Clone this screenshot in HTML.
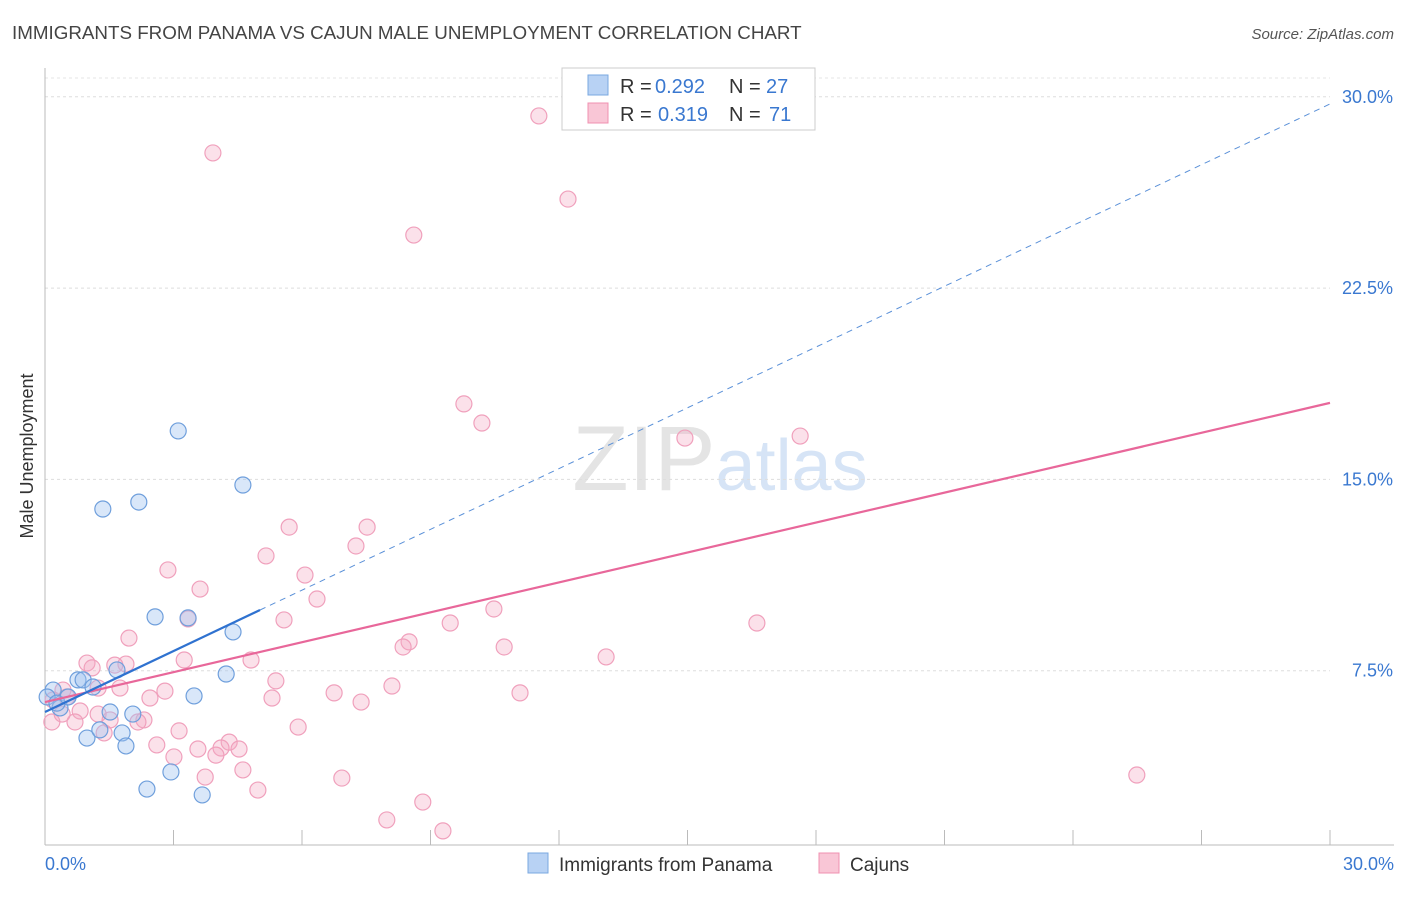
<!DOCTYPE html>
<html><head><meta charset="utf-8"><style>
body{margin:0;background:#fff;font-family:"Liberation Sans",sans-serif;}
svg text{font-family:"Liberation Sans",sans-serif;}
</style></head><body>
<svg id="chart" width="1406" height="892" xmlns="http://www.w3.org/2000/svg">
<text x="12" y="39" font-size="18.8" fill="#444">IMMIGRANTS FROM PANAMA VS CAJUN MALE UNEMPLOYMENT CORRELATION CHART</text>
<text x="1394" y="39" font-size="15" fill="#555" text-anchor="end" font-style="italic">Source: ZipAtlas.com</text>
<text transform="translate(33,456) rotate(-90)" font-size="18" fill="#333" text-anchor="middle">Male Unemployment</text>
<text x="720" y="490" font-size="92" text-anchor="middle" fill="#e4e4e4" font-family="Liberation Serif">ZIP<tspan fill="#d6e4f6" font-family="Liberation Sans" font-size="72">atlas</tspan></text>
<g id="grid"></g><g id="axes"></g><g id="marks"></g>
<g>
<rect x="562" y="68" width="253" height="62" fill="#fff" stroke="#ccc"/>
<rect x="588" y="75" width="20" height="20" fill="#b8d2f4" stroke="#7aa8e0"/>
<text y="93" font-size="20" fill="#333"><tspan x="620">R =</tspan><tspan x="655" fill="#3a78d0">0.292</tspan><tspan x="729">N =</tspan><tspan x="766" fill="#3a78d0">27</tspan></text>
<rect x="588" y="103" width="20" height="20" fill="#f9c6d6" stroke="#f090b0"/>
<text y="121" font-size="20" fill="#333"><tspan x="620">R =</tspan><tspan x="658" fill="#3a78d0">0.319</tspan><tspan x="729">N =</tspan><tspan x="769" fill="#3a78d0">71</tspan></text>
</g>
<g>
<rect x="528" y="853" width="20" height="20" fill="#b8d2f4" stroke="#7aa8e0"/>
<text x="559" y="871" font-size="19" fill="#333">Immigrants from Panama</text>
<rect x="819" y="853" width="20" height="20" fill="#f9c6d6" stroke="#f090b0"/>
<text x="850" y="871" font-size="19" fill="#333">Cajuns</text>
</g>
</svg>
<script>
const yTicks=[7.5,15,22.5,30];
const yTickLabels=["7.5%","15.0%","22.5%","30.0%"];
const xTicksEvery=[0,3,6,9,12,15,18,21,24,27,30];
const panamaX=[0.19,0.05,0.35,0.28,0.54,0.77,0.89,1.12,0.98,1.35,1.52,1.28,1.80,1.89,2.05,2.19,2.38,2.57,2.94,3.11,3.34,3.48,3.67,4.23,4.39,4.62,1.68];
const panamaY=[6.74,6.47,6.04,6.23,6.47,7.14,7.14,6.86,4.86,13.84,5.88,5.18,5.06,4.55,5.80,14.11,2.86,9.61,3.53,16.90,9.57,6.51,2.63,7.37,9.02,14.78,7.53];
const cajunX=[3.92,11.53,12.21,8.61,9.78,10.20,14.94,17.63,5.70,7.52,7.26,5.16,2.87,6.07,3.62,6.35,5.58,1.96,3.34,16.62,9.46,10.48,8.50,8.36,10.72,13.10,3.25,4.81,1.89,0.98,1.63,1.10,5.39,8.10,1.75,1.24,2.80,6.75,11.09,2.45,5.30,7.38,0.42,0.51,0.19,0.82,1.24,1.52,2.31,2.17,0.70,0.16,5.91,3.13,1.38,4.30,2.61,4.11,4.53,3.57,3.99,3.01,4.62,3.74,6.93,25.49,4.97,8.82,7.98,9.29,0.40];
const cajunY=[27.80,29.25,25.99,24.58,17.96,17.21,16.62,16.70,13.13,13.13,12.39,12.00,11.45,11.25,10.70,10.31,9.49,8.78,9.53,9.37,9.37,9.92,8.63,8.43,8.43,8.04,7.92,7.92,7.76,7.80,7.72,7.61,7.10,6.90,6.82,6.82,6.70,6.63,6.63,6.43,6.43,6.27,6.74,6.47,6.35,5.92,5.80,5.57,5.57,5.49,5.49,5.49,5.29,5.14,5.06,4.70,4.59,4.47,4.43,4.43,4.19,4.12,3.61,3.33,3.29,3.41,2.82,2.35,1.65,1.22,5.80];
const panamaTrend=[5.88,9.88,29.72];
const panamaTrendX=[0,5.02,30];
const cajunTrend=[6.27,18.0];
const cajunTrendX=[0,30];

const NS="http://www.w3.org/2000/svg";
const xs=v=>45+v/30*1285;
const ys=v=>862-v/7.5*191.3;
function mk(tag,attrs,parent){const e=document.createElementNS(NS,tag);for(const k in attrs)e.setAttribute(k,attrs[k]);document.getElementById(parent).appendChild(e);return e;}

yTicks.forEach((t,i)=>{
 const g=mk('line',{x1:45,x2:1330,y1:ys(t),y2:ys(t),stroke:'#ddd','stroke-dasharray':'3,3'},'grid');
 
 
 const l=mk('text',{x:1393,y:ys(t)+6,'font-size':18,fill:'#3a78d0','text-anchor':'end'},'axes');
 l.textContent=yTickLabels[i];
 
 
});
const topLine=mk('line',{x1:45,x2:1330,y1:78,y2:78,stroke:'#e4e4e4','stroke-dasharray':'3,3'},'grid');


const ya=mk('line',{x1:45,x2:45,y1:68,y2:845,stroke:'#bbb'},'axes');


const xa=mk('line',{x1:45,x2:1394,y1:845,y2:845,stroke:'#bbb'},'axes');


xTicksEvery.forEach(t=>{
 const k=mk('line',{x1:xs(t),x2:xs(t),y1:830,y2:845,stroke:'#bbb'},'axes');
 
 
});
const xl0=mk('text',{x:45,y:870,'font-size':18,fill:'#3a78d0'},'axes');xl0.textContent='0.0%';


const xl1=mk('text',{x:1394,y:870,'font-size':18,fill:'#3a78d0','text-anchor':'end'},'axes');xl1.textContent='30.0%';



cajunX.forEach((v,i)=>{
 const c=mk('circle',{cx:xs(v),cy:ys(cajunY[i]),r:8,fill:'rgba(244,170,195,0.35)',stroke:'#f0a0bc','stroke-width':1.2},'marks');
 
 
});
panamaX.forEach((v,i)=>{
 const c=mk('circle',{cx:xs(v),cy:ys(panamaY[i]),r:8,fill:'rgba(160,195,240,0.4)',stroke:'#6f9fdc','stroke-width':1.2},'marks');
 
 
});
const ct=mk('line',{x1:xs(cajunTrendX[0]),y1:ys(cajunTrend[0]),x2:xs(cajunTrendX[1]),y2:ys(cajunTrend[1]),stroke:'#e8679a','stroke-width':2.2},'marks');


const pt=mk('line',{x1:xs(panamaTrendX[0]),y1:ys(panamaTrend[0]),x2:xs(panamaTrendX[1]),y2:ys(panamaTrend[1]),stroke:'#2f72d0','stroke-width':2.2},'marks');


const pd=mk('line',{x1:xs(panamaTrendX[1]),y1:ys(panamaTrend[1]),x2:xs(panamaTrendX[2]),y2:ys(panamaTrend[2]),stroke:'#5a90d8','stroke-width':1,'stroke-dasharray':'6,5'},'marks');


</script>
</body></html>
